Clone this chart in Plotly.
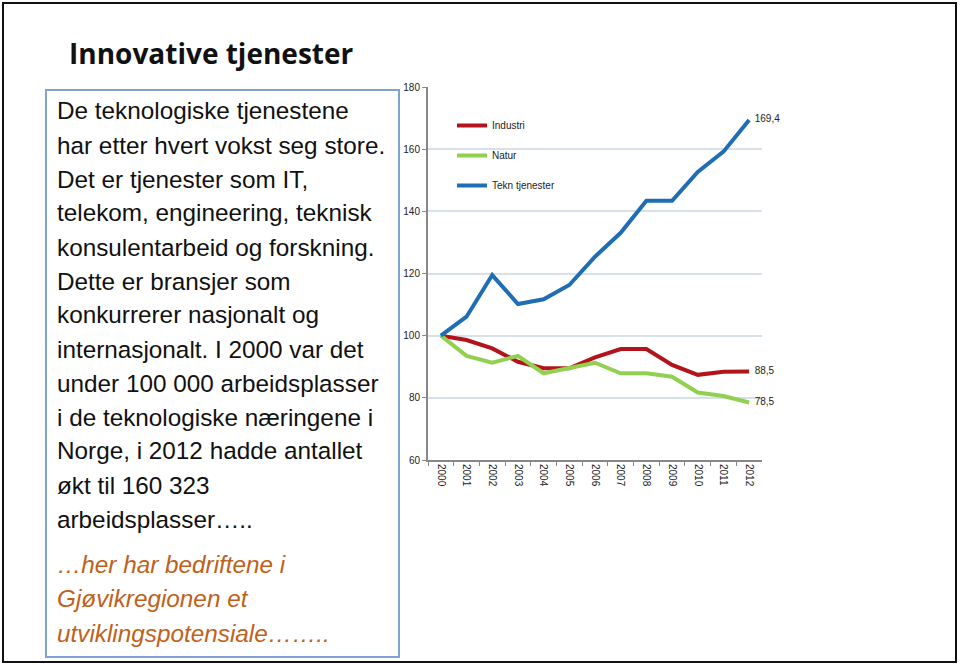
import plotly.graph_objects as go

W, H = 960, 665

years = [str(y) for y in range(2000, 2013)]
industri = [100, 98.6, 95.9, 91.6, 89.5, 89.5, 93.0, 95.7, 95.7, 90.6, 87.4, 88.4, 88.5]
natur = [100, 93.5, 91.3, 93.5, 87.9, 89.5, 91.3, 87.9, 87.9, 86.8, 81.7, 80.6, 78.5]
tekn = [100, 106.1, 119.5, 110.2, 111.7, 116.3, 125.4, 133.1, 143.4, 143.4, 152.7, 159.2, 169.4]

series_names = ["Industri", "Natur", "Tekn tjenester"]
series_colors = ["#b3141c", "#92d050", "#1f6eb4"]

title_text = "Innovative tjenester"
body_lines = [
    "De teknologiske tjenestene",
    "har etter hvert vokst seg store.",
    "Det er tjenester som IT,",
    "telekom, engineering, teknisk",
    "konsulentarbeid og forskning.",
    "Dette er bransjer som",
    "konkurrerer nasjonalt og",
    "internasjonalt. I 2000 var det",
    "under 100 000 arbeidsplasser",
    "i de teknologiske næringene i",
    "Norge, i 2012 hadde antallet",
    "økt til 160 323",
    "arbeidsplasser…..",
]
italic_lines = [
    "…her har bedriftene i",
    "Gjøvikregionen et",
    "utviklingspotensiale……..",
]


def px_x(x):
    return x / W


def px_y(y):
    return 1 - y / H


def end_label(values):
    # only the last point gets a value label, decimal comma
    return [""] * (len(values) - 1) + ["  " + f"{values[-1]:.1f}".replace(".", ",")]


fig = go.Figure()
for name, values, color in zip(series_names, [industri, natur, tekn], series_colors):
    fig.add_trace(
        go.Scatter(
            x=years,
            y=values,
            name=name,
            legendgroup=name,
            mode="lines+text",
            text=end_label(values),
            textposition="middle right",
            textfont=dict(family="Liberation Sans, Arial", size=10, color="#222"),
            line=dict(color=color, width=4),
            cliponaxis=False,
        )
    )

# outer frame and text box
fig.add_shape(type="rect", xref="paper", yref="paper",
              x0=px_x(3), x1=px_x(956), y0=px_y(662), y1=px_y(3),
              line=dict(color="#111", width=2))
fig.add_shape(type="rect", xref="paper", yref="paper",
              x0=px_x(46), x1=px_x(399), y0=px_y(657), y1=px_y(90),
              line=dict(color="#7fa2cf", width=2))

fig.add_annotation(
    text=f"<b>{title_text}</b>", xref="paper", yref="paper",
    x=px_x(67), y=px_y(53), xanchor="left", yanchor="middle", showarrow=False,
    font=dict(family="Open Sans, Lato", size=28, color="#111"),
)

for i, line in enumerate(body_lines):
    fig.add_annotation(
        text=line, xref="paper", yref="paper",
        x=px_x(55), y=px_y(111 + i * 34), xanchor="left", yanchor="middle",
        showarrow=False,
        font=dict(family="Liberation Sans, Arial", size=24.3, color="#111"),
    )

for i, line in enumerate(italic_lines):
    fig.add_annotation(
        text=f"<i>{line}</i>", xref="paper", yref="paper",
        x=px_x(55), y=px_y(564 + i * 34.5), xanchor="left", yanchor="middle",
        showarrow=False,
        font=dict(family="Liberation Sans, Arial", size=24.3, color="#c0611a"),
    )

fig.update_layout(
    width=W,
    height=H,
    margin=dict(l=0, r=0, t=0, b=0, autoexpand=False),
    paper_bgcolor="white",
    plot_bgcolor="white",
    showlegend=True,
    legend=dict(
        x=px_x(452), y=px_y(111), xanchor="left", yanchor="top",
        bgcolor="rgba(0,0,0,0)",
        font=dict(family="Liberation Sans, Arial", size=10, color="#222"),
        tracegroupgap=11,
        itemwidth=30,
    ),
    xaxis=dict(
        domain=[px_x(428), px_x(762)],
        type="category",
        range=[-0.5, 12.5],
        tickson="boundaries",
        ticks="outside",
        ticklen=4,
        tickcolor="#888",
        tickangle=90,
        showline=True,
        linecolor="#888",
        linewidth=2,
        showgrid=False,
        tickfont=dict(family="Liberation Sans, Arial", size=10, color="#222"),
    ),
    yaxis=dict(
        domain=[px_y(460), px_y(87)],
        range=[60, 180],
        dtick=20,
        ticks="outside",
        ticklen=4,
        tickcolor="#888",
        showline=True,
        linecolor="#888",
        linewidth=2,
        gridcolor="#d8e0ea",
        gridwidth=1.5,
        zeroline=False,
        tickfont=dict(family="Liberation Sans, Arial", size=10, color="#222"),
    ),
)

# pin the 960x665 figure to the top-left corner of the window
pin_plot = (
    "document.body.style.margin='0';"
    "var d=document.getElementById('{plot_id}');"
    "d.style.position='fixed';d.style.top='0';d.style.left='0';"
)
fig.write_html("out.html", config={"displayModeBar": False}, post_script=pin_plot)
